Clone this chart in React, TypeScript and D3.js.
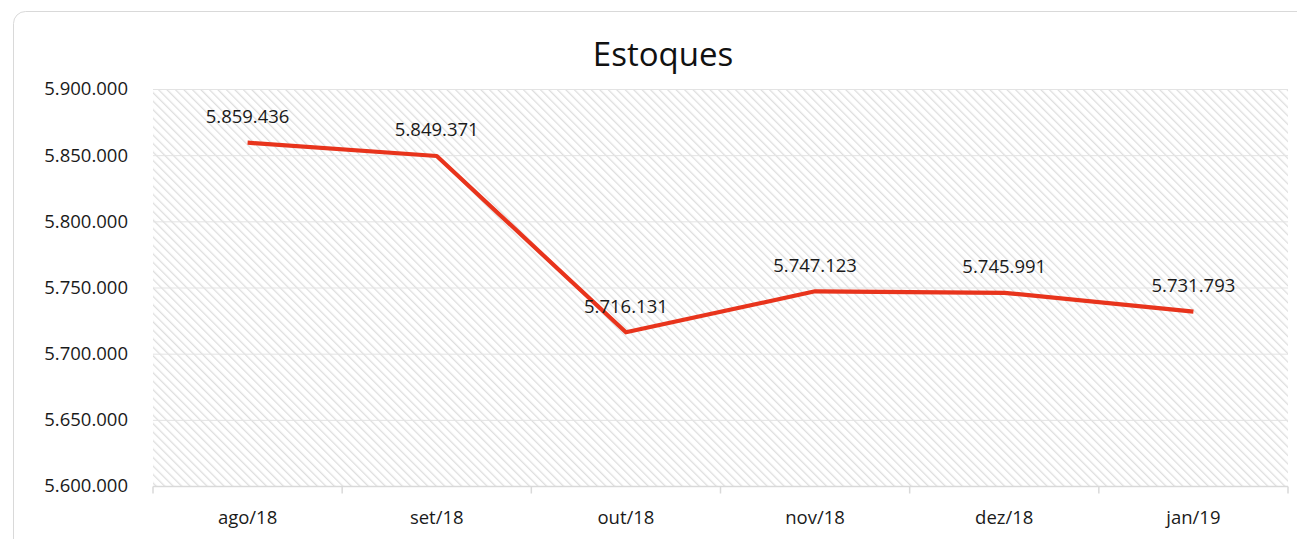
import { useEffect, useRef } from "react";
import * as d3 from "d3";

const months = ["ago/18", "set/18", "out/18", "nov/18", "dez/18", "jan/19"];
const estoques = [5859436, 5849371, 5716131, 5747123, 5745991, 5731793];
const yTicks = [5600000, 5650000, 5700000, 5750000, 5800000, 5850000, 5900000];

const fmt = (v: number) => d3.format(",")(v).replace(/,/g, ".");

export default function App() {
  const svgRef = useRef<SVGSVGElement>(null);

  useEffect(() => {
    const svg = d3.select(svgRef.current);
    svg.selectAll("*").remove();

    const width = 1297;
    const height = 539;
    const margin = { top: 89, right: 9, bottom: 53, left: 153 };
    const font = "'Open Sans', 'Noto Sans', sans-serif";
    const fs = 18.5;

    // card
    svg
      .append("rect")
      .attr("x", 13.5)
      .attr("y", 11.5)
      .attr("width", 1300)
      .attr("height", 560)
      .attr("rx", 12)
      .attr("fill", "#fff")
      .attr("stroke", "#d9d9d9");

    const defs = svg.append("defs");
    const pat = defs
      .append("pattern")
      .attr("id", "hatch")
      .attr("patternUnits", "userSpaceOnUse")
      .attr("width", 6)
      .attr("height", 6)
      .attr("patternTransform", "rotate(-45)");
    pat.append("rect").attr("width", 6).attr("height", 6).attr("fill", "#fff");
    pat
      .append("line")
      .attr("x1", 0)
      .attr("y1", 0)
      .attr("x2", 0)
      .attr("y2", 6)
      .attr("stroke", "#dedede")
      .attr("stroke-width", 2.6);

    const x = d3
      .scaleBand()
      .domain(months)
      .range([margin.left, width - margin.right]);

    const y = d3
      .scaleLinear()
      .domain([5600000, 5900000])
      .range([height - margin.bottom, margin.top]);

    svg
      .append("rect")
      .attr("x", margin.left)
      .attr("y", margin.top)
      .attr("width", width - margin.right - margin.left)
      .attr("height", height - margin.bottom - margin.top)
      .attr("fill", "url(#hatch)");

    // gridlines
    svg
      .append("g")
      .selectAll("line")
      .data(yTicks.slice(1))
      .enter()
      .append("line")
      .attr("x1", margin.left)
      .attr("x2", width - margin.right)
      .attr("y1", (d) => y(d) + 0.5)
      .attr("y2", (d) => y(d) + 0.5)
      .attr("stroke", "#e3e3e3")
      .attr("stroke-width", 1);

    // y labels
    svg
      .append("g")
      .selectAll("text")
      .data(yTicks)
      .enter()
      .append("text")
      .attr("x", 128)
      .attr("y", (d) => y(d))
      .attr("dy", "0.35em")
      .attr("text-anchor", "end")
      .attr("font-family", font)
      .attr("font-size", fs)
      .attr("fill", "#1a1a1a")
      .text((d) => fmt(d));

    // x axis
    const xAxis = svg
      .append("g")
      .attr("transform", `translate(0,${height - margin.bottom + 0.5})`);
    xAxis
      .append("line")
      .attr("x1", margin.left)
      .attr("x2", width - margin.right)
      .attr("stroke", "#d9d9d9")
      .attr("stroke-width", 1.5);
    const edges = months.map((m) => x(m) as number).concat([width - margin.right]);
    xAxis
      .selectAll("line.tick")
      .data(edges)
      .enter()
      .append("line")
      .attr("class", "tick")
      .attr("x1", (d) => d)
      .attr("x2", (d) => d)
      .attr("y1", 0)
      .attr("y2", 7)
      .attr("stroke", "#d9d9d9")
      .attr("stroke-width", 1.5);
    xAxis
      .selectAll("text")
      .data(months)
      .enter()
      .append("text")
      .attr("x", (d) => (x(d) as number) + x.bandwidth() / 2)
      .attr("y", 37)
      .attr("text-anchor", "middle")
      .attr("font-family", font)
      .attr("font-size", fs)
      .attr("fill", "#1a1a1a")
      .text((d) => d);

    const line = d3
      .line<number>()
      .x((_, i) => (x(months[i]) as number) + x.bandwidth() / 2)
      .y((d) => y(d));

    svg
      .append("path")
      .datum(estoques)
      .attr("d", line)
      .attr("fill", "none")
      .attr("stroke", "#e8341c")
      .attr("stroke-width", 4.2)
      .attr("stroke-linejoin", "round");

    svg
      .append("g")
      .selectAll("text")
      .data(estoques)
      .enter()
      .append("text")
      .attr("x", (_, i) => (x(months[i]) as number) + x.bandwidth() / 2)
      .attr("y", (d) => y(d) - 26)
      .attr("dy", "0.35em")
      .attr("text-anchor", "middle")
      .attr("font-family", font)
      .attr("font-size", fs)
      .attr("fill", "#1a1a1a")
      .text((d) => fmt(d));

    svg
      .append("text")
      .attr("x", 663)
      .attr("y", 54)
      .attr("dy", "0.35em")
      .attr("text-anchor", "middle")
      .attr("font-family", font)
      .attr("font-size", 33)
      .attr("fill", "#111")
      .text("Estoques");
  }, []);

  return (
    <svg
      ref={svgRef}
      width={1297}
      height={539}
      style={{ position: "absolute", left: 0, top: 0 }}
    />
  );
}
